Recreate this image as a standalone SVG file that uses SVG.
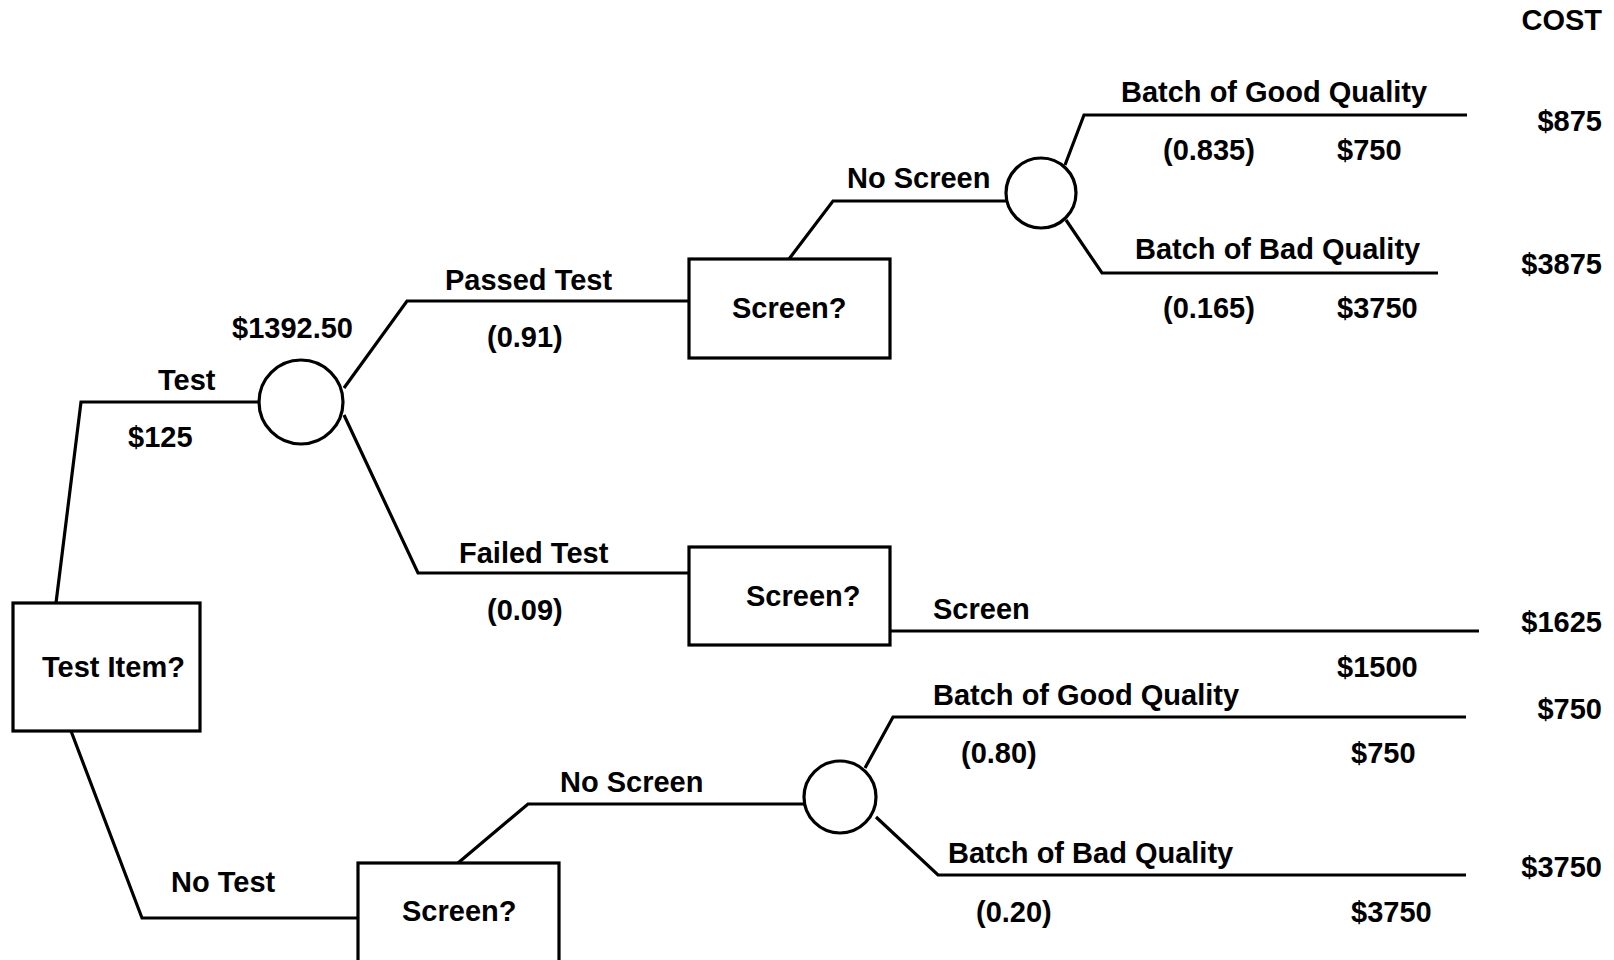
<svg xmlns="http://www.w3.org/2000/svg" width="1614" height="960" viewBox="0 0 1614 960">
<style>
text{font-family:"Liberation Sans",Arial,sans-serif;font-weight:bold;font-size:29px;fill:#000}
.r{text-anchor:end}
.box{fill:#fff;stroke:#000;stroke-width:3.2}
.chance{fill:#fff;stroke:#000;stroke-width:3.2}
.edge{fill:none;stroke:#000;stroke-width:3.2;stroke-linejoin:miter}
</style>
<rect width="1614" height="960" fill="#fff"/>
<g id="connectors">
<polyline class="edge" points="56,603 81,402 259,402"/>
<polyline class="edge" points="71,731 142,918 359,918"/>
<polyline class="edge" points="344,388 407,301 689,301"/>
<polyline class="edge" points="344,415 418,573 689,573"/>
<polyline class="edge" points="789,259 833,201 1007,201"/>
<polyline class="edge" points="1065,165 1084,115 1467,115"/>
<polyline class="edge" points="1066,220 1102,273 1438,273"/>
<polyline class="edge" points="890,631 1479,631"/>
<polyline class="edge" points="458,863 528,804 805,804"/>
<polyline class="edge" points="865,768 893,717 1466,717"/>
<polyline class="edge" points="876,817 938,875 1466,875"/>
</g>
<g id="test-item">
<rect class="box" x="13" y="603" width="187" height="128"/>
<text x="42" y="677">Test Item?</text>
</g>
<g id="chance-test">
<circle class="chance" cx="301" cy="402" r="42"/>
<text x="232" y="338">$1392.50</text>
</g>
<g id="screen-passed">
<rect class="box" x="689" y="259" width="201" height="99"/>
<text x="732" y="318">Screen?</text>
</g>
<g id="screen-failed">
<rect class="box" x="689" y="547" width="201" height="98"/>
<text x="746" y="606">Screen?</text>
</g>
<g id="screen-notest">
<rect class="box" x="358" y="863" width="201" height="110"/>
<text x="402" y="921">Screen?</text>
</g>
<g id="chance-passed">
<circle class="chance" cx="1041" cy="193" r="35"/>
</g>
<g id="chance-notest">
<circle class="chance" cx="840" cy="797" r="36"/>
</g>
<g id="labels">
<text x="158" y="390">Test</text>
<text x="128" y="447">$125</text>
<text x="171" y="892">No Test</text>
<text x="445" y="290">Passed Test</text>
<text x="487" y="347">(0.91)</text>
<text x="459" y="563">Failed Test</text>
<text x="487" y="620">(0.09)</text>
<text x="847" y="188">No Screen</text>
<text x="1121" y="102">Batch of Good Quality</text>
<text x="1163" y="160">(0.835)</text>
<text x="1337" y="160">$750</text>
<text x="1135" y="259">Batch of Bad Quality</text>
<text x="1163" y="318">(0.165)</text>
<text x="1337" y="318">$3750</text>
<text x="933" y="619">Screen</text>
<text x="1337" y="677">$1500</text>
<text x="560" y="792">No Screen</text>
<text x="933" y="705">Batch of Good Quality</text>
<text x="961" y="763">(0.80)</text>
<text x="1351" y="763">$750</text>
<text x="948" y="863">Batch of Bad Quality</text>
<text x="976" y="922">(0.20)</text>
<text x="1351" y="922">$3750</text>
</g>
<g id="costs">
<text class="r" x="1602" y="30">COST</text>
<text class="r" x="1602" y="131">$875</text>
<text class="r" x="1602" y="274">$3875</text>
<text class="r" x="1602" y="632">$1625</text>
<text class="r" x="1602" y="719">$750</text>
<text class="r" x="1602" y="877">$3750</text>
</g>
</svg>
